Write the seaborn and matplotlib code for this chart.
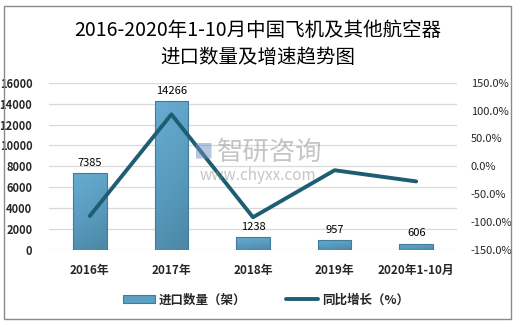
import matplotlib
matplotlib.use("Agg")
import matplotlib.pyplot as plt
from matplotlib.patches import Rectangle
from matplotlib.lines import Line2D
from matplotlib.colors import LinearSegmentedColormap
import seaborn as sns
import pandas as pd
import numpy as np

# Import volume of aircraft and other aerial vehicles, with year-on-year growth
categories = ["2016年", "2017年", "2018年", "2019年", "2020年1-10月"]
import_units = [7385, 14266, 1238, 957, 606]
growth_pct = [-89.0, 93.2, -91.3, -7.0, -27.0]

left_ticks = [0, 2000, 4000, 6000, 8000, 10000, 12000, 14000, 16000]
right_ticks = [-150, -100, -50, 0, 50, 100, 150]

title_text = "2016-2020年1-10月中国飞机及其他航空器\n进口数量及增速趋势图"
bar_name = "进口数量（架）"
line_name = "同比增长（%）"

sns.set_theme(style="white")
plt.rcParams["font.family"] = ["Noto Sans CJK SC", "DejaVu Sans"]

bar_color = "#5c9fc4"
bar_edge = "#3f7d9c"
line_color = "#1d5e72"
shade = LinearSegmentedColormap.from_list("barshade", ["#4c88a5", "#5a9cc0", "#67acd1"])

df = pd.DataFrame({"cat": categories, "units": import_units, "growth": growth_pct})

fig = plt.figure(figsize=(5.16, 3.25), dpi=100)
ax = fig.add_axes([49 / 516, 1 - 250 / 325, (457 - 49) / 516, (250 - 82.7) / 325])

sns.barplot(data=df, x="cat", y="units", ax=ax, color=bar_color, width=0.41,
            edgecolor=bar_edge, linewidth=0.8, saturation=1)
ax.set_ylim(0, 16000)
ax.set_xlim(-0.5, len(categories) - 0.5)

# Shade each bar with a soft top-to-bottom gradient
grad = np.linspace(1, 0, 64).reshape(-1, 1) * np.ones((1, 8))
grad = grad - np.linspace(0, 0.25, 8).reshape(1, -1)
for bar in ax.patches:
    x0, y0 = bar.get_x(), bar.get_y()
    w, h = bar.get_width(), bar.get_height()
    im = ax.imshow(grad, cmap=shade, aspect="auto", extent=[x0, x0 + w, y0, y0 + h],
                   origin="upper", vmin=-0.25, vmax=1, zorder=bar.get_zorder() + 0.1)
    im.set_clip_path(bar)
    bar.set_facecolor("none")
    bar.set_zorder(bar.get_zorder() + 0.2)
ax.set_ylim(0, 16000)
ax.set_xlim(-0.5, len(categories) - 0.5)
ax.set_aspect("auto")

ax.set_yticks(left_ticks)
ax.grid(axis="y", color="#d9d9d9", linewidth=0.9)
ax.set_axisbelow(True)
for s in ax.spines.values():
    s.set_visible(False)
ax.set_xlabel("")
ax.set_ylabel("")
ax.tick_params(axis="both", length=0)
ax.tick_params(axis="y", labelsize=8, pad=12)
ax.tick_params(axis="x", labelsize=8.5, pad=10)
for lab in ax.get_yticklabels():
    lab.set_fontweight("bold")
for lab in ax.get_xticklabels():
    lab.set_fontweight("bold")

for i, v in enumerate(import_units):
    ax.text(i, v + 500, str(v), ha="center", va="bottom", fontsize=8, color="black")

ax2 = ax.twinx()
sns.lineplot(data=df, x="cat", y="growth", ax=ax2, color=line_color, linewidth=2.8,
             sort=False)
ax2.set_ylim(-150, 150)
ax2.set_yticks(right_ticks)
ax2.set_yticklabels([f"{t:.1f}%" for t in right_ticks])
for s in ax2.spines.values():
    s.set_visible(False)
ax2.set_ylabel("")
ax2.set_xlabel("")
ax2.tick_params(axis="y", length=0, labelsize=8, pad=10)

# Watermark
fig.text(270 / 516, 1 - 152 / 325, "智研咨询", fontsize=19, color="#8c8c8c", alpha=0.5,
         ha="center", va="center")
fig.text(258 / 516, 1 - 176 / 325, "www.chyxx.com", fontsize=11, color="#8c8c8c", alpha=0.5,
         ha="center", va="center")
fig.text(203 / 516, 1 - 152 / 325, "■", fontsize=14, color="#6f8fc0", alpha=0.5,
         ha="center", va="center")

fig.text(0.5, 1 - 44 / 325, title_text, ha="center", va="center", fontsize=14,
         linespacing=1.35, color="black")

handles = [Rectangle((0, 0), 1, 1, facecolor=bar_color, edgecolor=bar_edge, linewidth=0.8),
           Line2D([0], [0], color=line_color, linewidth=2.8)]
fig.legend(handles, [bar_name, line_name], loc="center", bbox_to_anchor=(0.515, 1 - 300 / 325),
           ncol=2, frameon=False, handlelength=2.6, handleheight=0.6, columnspacing=3.2,
           handletextpad=0.25, prop={"size": 9, "weight": "bold"})

fig.patches.append(Rectangle((3.5 / 516, 1 - 318.5 / 325), 507 / 516, 313 / 325,
                             transform=fig.transFigure, fill=False,
                             edgecolor="#8a8a8a", linewidth=1))

fig.savefig("out.png", dpi=100)
